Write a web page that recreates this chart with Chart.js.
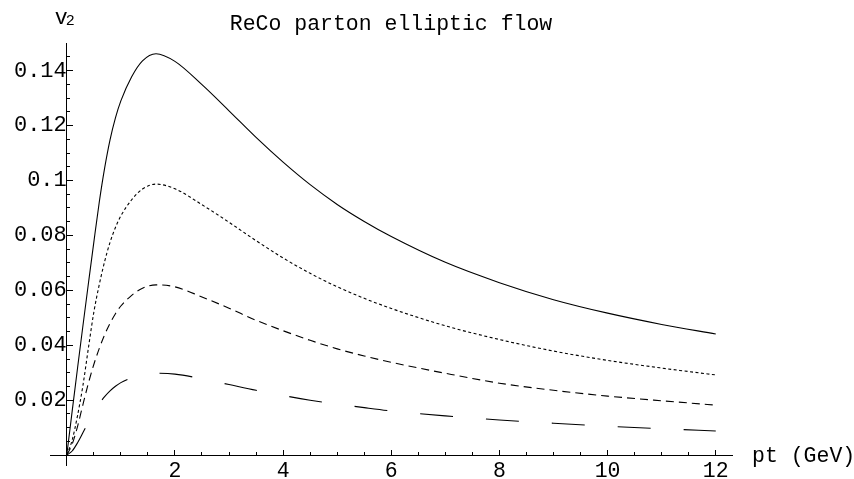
<!DOCTYPE html>
<html>
<head>
<meta charset="utf-8">
<script src="https://cdn.jsdelivr.net/npm/chart.js@4/dist/chart.umd.min.js"></script>
<style>html,body{margin:0;padding:0;background:#fff}canvas{display:block}</style>
</head>
<body>
<canvas id="c" width="854" height="479"></canvas>
<script>
// ---- data ----
const pt = [0,0.1,0.2,0.3,0.4,0.5,0.6,0.7,0.8,0.9,1.0,1.2,1.4,1.65,2.0,2.5,3.0,3.5,4.0,4.5,5.0,5.5,6.0,7.0,8.0,9.0,10.0,11.0,12.0];
const v2Solid  = [0,0.016,0.0318,0.0473,0.0625,0.0775,0.0920,0.1045,0.1148,0.1228,0.1290,0.1378,0.1436,0.1462,0.1434,0.1349,0.1254,0.1157,0.1067,0.0985,0.0913,0.0851,0.0796,0.0702,0.0628,0.0566,0.0517,0.0476,0.0441];
const v2Dotted = [0,0.0055,0.0145,0.0255,0.039,0.052,0.062,0.0705,0.0775,0.0829,0.0871,0.0930,0.0969,0.0987,0.0970,0.0912,0.0848,0.0781,0.0718,0.0662,0.0613,0.0571,0.0534,0.0471,0.0421,0.0379,0.0345,0.0317,0.0292];
const v2Dashed = [0,0.004,0.0105,0.0185,0.0262,0.0330,0.0388,0.0438,0.0480,0.0515,0.0543,0.0582,0.0608,0.0620,0.0613,0.0576,0.0535,0.0491,0.0453,0.0418,0.0387,0.0361,0.0338,0.0298,0.0262,0.0236,0.0215,0.0198,0.0182];
const v2LongDash = [0,0.0015,0.0045,0.0082,0.0120,0.0156,0.0187,0.0213,0.0234,0.0251,0.0264,0.0282,0.0293,0.0298,0.0295,0.0278,0.0257,0.0236,0.0217,0.0200,0.0186,0.0173,0.0161,0.0143,0.0128,0.0116,0.0105,0.0096,0.0088];

const xMajorTicks = [2,4,6,8,10,12];
const xTickLabels = ['2','4','6','8','10','12'];
const yMajorTicks = [0.02,0.04,0.06,0.08,0.1,0.12,0.14];
const yTickLabels = ['0.02','0.04','0.06','0.08','0.1','0.12','0.14'];
const xMinorStep = 0.5, yMinorStep = 0.005;

const titleText = 'ReCo parton elliptic flow';
const xAxisLabel = 'pt (GeV)';

// ---- build ----
const FONT = 'Liberation Mono, Courier New, monospace';
function pts(ys){ return pt.map((x,i)=>({x:x, y:ys[i]})); }
function minorList(step, max, majors){
  const out=[]; for(let k=1; k*step<=max+1e-9; k++){ const v=+(k*step).toFixed(4); if(!majors.some(m=>Math.abs(m-v)<1e-9)) out.push(v);} return out;
}
const xMinorTicks = minorList(xMinorStep, 12.3, xMajorTicks);
const yMinorTicks = minorList(yMinorStep, 0.1498, yMajorTicks);

function ds(ys, dash){
  return {data: pts(ys), borderColor:'#000', borderWidth:1.1, borderDash:dash, pointRadius:0,
          cubicInterpolationMode:'monotone', fill:false, xAxisID:'x', yAxisID:'y'};
}
function tickOnlyAxis(axis, min, max, pos, list, len){
  return { type:'linear', axis:axis, min:min, max:max, position:pos,
           afterBuildTicks:s=>{ s.ticks = list.map(v=>({value:v})); },
           grid:{drawOnChartArea:false, drawTicks:true, tickLength:len, tickColor:'#000', tickWidth:1},
           border:{display:false}, ticks:{display:false, autoSkip:false} };
}

const axisLabels = {
  id:'axisLabels',
  afterDraw(chart){
    const ctx = chart.ctx, xs = chart.scales.x, ys = chart.scales.y, ca = chart.chartArea;
    ctx.save();
    ctx.fillStyle = '#000';
    ctx.textBaseline = 'alphabetic';
    ctx.textAlign = 'left';
    const x0 = xs.getPixelForValue(0);
    ctx.font = '21.5px ' + FONT;
    ctx.fillText('v', x0 - 12, 24);
    ctx.font = '15px ' + FONT;
    ctx.fillText('2', x0 - 1, 25);
    ctx.font = '21.5px ' + FONT;
    ctx.textBaseline = 'middle';
    ctx.fillText(xAxisLabel, ca.right + 20, ys.getPixelForValue(0) + 1);
    ctx.restore();
  }
};

new Chart(document.getElementById('c'), {
  type:'line',
  data:{ datasets:[ ds(v2Solid, []), ds(v2Dotted, [3,2.5]), ds(v2Dashed, [8,5]), ds(v2LongDash, [33,33]) ] },
  options:{
    responsive:false, animation:false, events:[],
    layout:{ padding:{left:50, right:122, top:0, bottom:14} },
    plugins:{
      legend:{display:false}, tooltip:{enabled:false},
      title:{display:true, text:titleText, color:'#000', fullSize:false,
             font:{family:FONT, size:21.5, weight:'normal'}, padding:{top:11, bottom:7}}
    },
    scales:{
      x:{ type:'linear', axis:'x', min:-0.31, max:12.3, position:{y:0},
          afterBuildTicks:s=>{ s.ticks = xMajorTicks.map(v=>({value:v})); },
          grid:{drawOnChartArea:false, drawTicks:true, tickLength:-6, tickColor:'#000', tickWidth:1},
          border:{display:true, color:'#000', width:1},
          ticks:{autoSkip:false, maxRotation:0, padding:9, color:'#000', font:{family:FONT, size:21.5},
                 callback:(v,i)=>xTickLabels[i]} },
      xMinor: tickOnlyAxis('x', -0.31, 12.3, {y:0}, xMinorTicks, -3),
      y:{ type:'linear', axis:'y', min:-0.0036, max:0.1498, position:{x:0},
          afterBuildTicks:s=>{ s.ticks = yMajorTicks.map(v=>({value:v})); },
          grid:{drawOnChartArea:false, drawTicks:false},
          border:{display:true, color:'#000', width:1},
          ticks:{autoSkip:false, padding:8, color:'#000', font:{family:FONT, size:22, lineHeight:0.5},
                 callback:(v,i)=>yTickLabels[i]} },
      yMajor: tickOnlyAxis('y', -0.0036, 0.1498, {x:0}, yMajorTicks, -6),
      yMinor: tickOnlyAxis('y', -0.0036, 0.1498, {x:0}, yMinorTicks, -3)
    }
  },
  plugins:[axisLabels]
});
</script>
</body>
</html>
